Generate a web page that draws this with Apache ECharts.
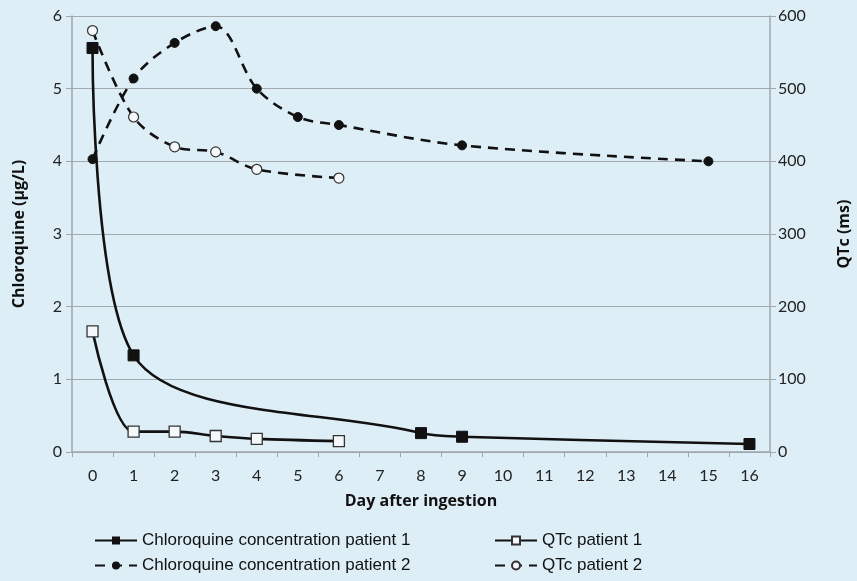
<!DOCTYPE html>
<html>
<head>
<meta charset="utf-8">
<script src="https://cdn.jsdelivr.net/npm/echarts@6/dist/echarts.min.js"></script>
<style>
html,body{margin:0;padding:0;background:#ddeef6;}
#chart{width:857px;height:581px;}
</style>
</head>
<body>
<div id="chart"></div>
<script>
// Data
const days = ['0','1','2','3','4','5','6','7','8','9','10','11','12','13','14','15','16'];
const cqPatient1 = [5.56, 1.33, null, null, null, null, null, null, 0.26, 0.21, null, null, null, null, null, null, 0.11];
const cqPatient2 = [4.03, 5.14, 5.63, 5.86, 5.00, 4.61, 4.50, null, null, 4.22, null, null, null, null, null, 4.00, null];
const qtcPatient1 = [166, 28, 28, 22, 18, null, 15, null, null, null, null, null, null, null, null, null, null];
const qtcPatient2 = [580, 461, 420, 413, 389, null, 377, null, null, null, null, null, null, null, null, null, null];
const leftTicks = [0, 1, 2, 3, 4, 5, 6];
const rightTicks = [0, 100, 200, 300, 400, 500, 600];

const names = ['Chloroquine concentration patient 1', 'Chloroquine concentration patient 2', 'QTc patient 1', 'QTc patient 2'];
const ink = '#111111';
const axisGray = '#9ea7ad';
const tickFont = {fontFamily: 'Lato', fontSize: 16, color: '#222'};
const titleFont = {fontFamily: 'Open Sans', fontWeight: 'bold', fontSize: 16, color: '#111'};
const legendText = {fontFamily: 'Liberation Sans', fontSize: 17, color: '#111'};

function legendItem(name, left, top) {
  return {orient: 'horizontal', left: left, top: top, itemWidth: 42, itemHeight: 10, itemGap: 0,
          padding: 0, textStyle: legendText, data: [name]};
}

const chart = echarts.init(document.getElementById('chart'), null, {renderer: 'canvas'});
chart.setOption({
  backgroundColor: '#ddeef6',
  animation: false,
  grid: {left: 72, right: 87, top: 16, bottom: 129, containLabel: false, outerBoundsMode: 'none'},
  legend: [
    legendItem(names[0], 94, 532),
    legendItem(names[1], 94, 557),
    legendItem(names[2], 494, 532),
    legendItem(names[3], 494, 557)
  ],
  xAxis: {
    type: 'category', data: days, boundaryGap: true,
    name: 'Day after ingestion', nameLocation: 'middle', nameGap: 41,
    nameTextStyle: titleFont,
    axisLine: {lineStyle: {color: axisGray, width: 1.5}},
    axisTick: {show: true, alignWithLabel: false, length: 5, lineStyle: {color: axisGray}},
    axisLabel: Object.assign({margin: 16}, tickFont),
    splitLine: {show: false}
  },
  yAxis: [
    {type: 'value', min: leftTicks[0], max: leftTicks[leftTicks.length - 1], interval: 1,
     name: 'Chloroquine (µg/L)', nameLocation: 'middle', nameGap: 45, nameRotate: 90,
     nameTextStyle: titleFont,
     axisLine: {show: true, lineStyle: {color: axisGray, width: 1.5}},
     axisTick: {show: true, length: 6, lineStyle: {color: axisGray}},
     axisLabel: Object.assign({margin: 10}, tickFont),
     splitLine: {show: true, lineStyle: {color: '#a3a9ae', width: 1.2}}},
    {type: 'value', min: rightTicks[0], max: rightTicks[rightTicks.length - 1], interval: 100,
     position: 'right',
     name: 'QTc (ms)', nameLocation: 'middle', nameGap: 66, nameRotate: 90,
     nameTextStyle: titleFont,
     axisLine: {show: true, lineStyle: {color: axisGray, width: 1.5}},
     axisTick: {show: true, length: 6, lineStyle: {color: axisGray}},
     axisLabel: Object.assign({margin: 8}, tickFont),
     splitLine: {show: false}}
  ],
  series: [
    {name: names[0], type: 'line', data: cqPatient1, yAxisIndex: 0, connectNulls: true, smooth: 0.33,
     symbol: 'rect', symbolSize: 11, showAllSymbol: true,
     itemStyle: {color: ink, borderColor: ink},
     lineStyle: {color: ink, width: 2.6, type: 'solid'}},
    {name: names[1], type: 'line', data: cqPatient2, yAxisIndex: 0, connectNulls: true, smooth: 0.33,
     symbol: 'circle', symbolSize: 9, showAllSymbol: true,
     itemStyle: {color: ink, borderColor: ink},
     lineStyle: {color: ink, width: 2.6, type: [10, 7]}},
    {name: names[2], type: 'line', data: qtcPatient1, yAxisIndex: 1, connectNulls: true, smooth: 0.33,
     symbol: 'rect', symbolSize: 11, showAllSymbol: true,
     itemStyle: {color: '#f4f8fa', borderColor: '#333', borderWidth: 1.3},
     lineStyle: {color: ink, width: 2.6, type: 'solid'}},
    {name: names[3], type: 'line', data: qtcPatient2, yAxisIndex: 1, connectNulls: true, smooth: 0.33,
     symbol: 'circle', symbolSize: 10, showAllSymbol: true,
     itemStyle: {color: '#f4f8fa', borderColor: '#333', borderWidth: 1.2},
     lineStyle: {color: ink, width: 2.6, type: [10, 7]}}
  ]
});
</script>
</body>
</html>
